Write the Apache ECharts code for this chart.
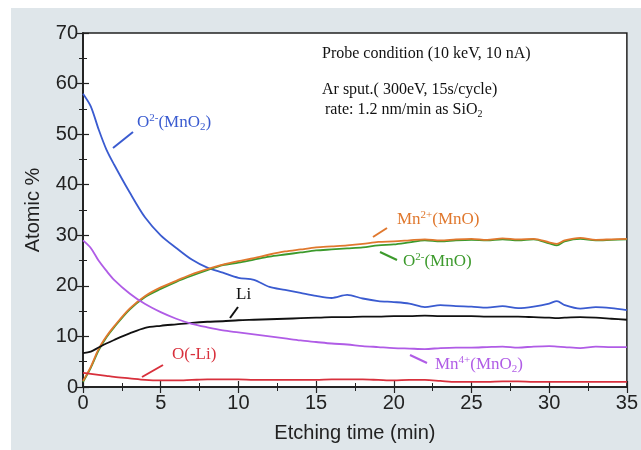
<!DOCTYPE html>
<html><head><meta charset="utf-8">
<script src="https://cdn.jsdelivr.net/npm/echarts@6/dist/echarts.min.js"></script>
<style>html,body{margin:0;padding:0;background:#fff}#c{width:641px;height:450px}</style>
</head><body><div id="c"></div>
<script>
var times = [0,0.5,1,1.5,2,3,4,5,6,7,8,9,10,11,12,13,14,15,16,17,18,19,20,21,22,23,24,25,26,27,28,29,30,30.5,31,32,33,34,35];
var o2MnO2 = [58,55.5,51,47,44,38.5,33.5,30,27.5,25.2,23.6,22.6,21.6,21.2,19.8,19.2,18.6,18,17.6,18.2,17.5,17,16.8,16.5,15.8,16.2,16,15.9,15.7,16,15.6,15.9,16.5,17,16.2,15.5,15.8,15.6,15.2];
var mn2MnO = [1.2,4,7.5,10,12,15.5,18,19.7,21,22.3,23.3,24.2,24.9,25.5,26.2,26.8,27.2,27.6,27.8,28,28.3,28.7,28.8,29,29.2,29,29.2,29.3,29.1,29.4,29.2,29.3,28.6,28.3,29,29.5,29.1,29.2,29.3];
var o2MnO = [1,3.8,7.2,9.8,11.8,15.3,17.8,19.4,20.8,22,23.1,24.1,24.6,25.2,25.8,26.2,26.6,27,27.2,27.4,27.6,28,28.2,28.6,29,28.8,29,29.1,29,29.2,29,29.2,28.4,28,28.8,29.3,29,29.1,29.2];
var li = [6.7,7,7.8,8.6,9.3,10.6,11.7,12.1,12.4,12.7,12.9,13,13.2,13.3,13.4,13.5,13.6,13.7,13.8,13.8,13.9,13.9,14,14,14.1,14,14,14,13.9,13.9,13.9,13.8,13.7,13.6,13.7,13.8,13.7,13.5,13.3];
var mn4MnO2 = [29,27.5,25,23,21.2,18.5,16.4,14.8,13.5,12.5,11.8,11.2,10.8,10.4,10,9.6,9.2,8.9,8.6,8.4,8.1,7.9,7.7,7.6,7.5,7.7,7.8,7.8,7.9,8,7.8,8,8.1,8,7.9,7.7,8,7.9,7.9];
var oLi = [2.8,2.6,2.4,2.2,2,1.7,1.4,1.3,1.3,1.4,1.5,1.5,1.5,1.4,1.4,1.4,1.4,1.4,1.5,1.5,1.5,1.4,1.3,1.4,1.4,1.2,1,1,1,1.1,1.1,1,1,1,1,1,1,1,1];
var xTicks = [0,5,10,15,20,25,30,35];
var yTicks = [0,10,20,30,40,50,60,70];

function pairs(v){ return times.map(function(t,i){return [t,v[i]];}); }
var chart = echarts.init(document.getElementById('c'));
var axisCol = '#222';
function mkSeries(name, data, color){
  return {name:name, type:'line', data:pairs(data), showSymbol:false, smooth:0.3,
    lineStyle:{color:color, width:1.8}, itemStyle:{color:color}, z:3};
}
var serif = 'Liberation Serif';
function richFor(color,size,ss){
  size=size||17; ss=ss||11;
  return {
    n:{fontFamily:serif,fontSize:size,fill:color,color:color},
    sup:{fontFamily:serif,fontSize:ss,verticalAlign:'top',fill:color,color:color,padding:[0,0,8,0]},
    sub:{fontFamily:serif,fontSize:ss,fill:color,color:color,padding:[9,0,0,0]}
  };
}
function lbl(x,y,text,color,size,ss){
  return {type:'text', z:10, left:x, top:y, style:{text:text, fill:color, font:(size||17)+'px "Liberation Serif"', rich:richFor(color,size,ss)}};
}
function leader(x1,y1,x2,y2,color){
  return {type:'line', z:10, shape:{x1:x1,y1:y1,x2:x2,y2:y2}, style:{stroke:color,lineWidth:2}};
}
var cBlue='#3a5bd0', cOr='#e0782e', cGr='#3c9a2c', cBk='#111111', cPu='#b05ce6', cRd='#d8303c';
var option = {
  animation:false,
  backgroundColor:'#ffffff',
  graphic:[
    {type:'rect', z:-10, shape:{x:11,y:8,width:630,height:442}, style:{fill:'#dfe6ea'}},
    {type:'text', z:10, left:322, top:46, style:{text:'Probe condition (10 keV, 10 nA)', fill:'#111', font:'16px "Liberation Serif"'}},
    {type:'text', z:10, left:322, top:82, style:{text:'Ar sput.( 300eV, 15s/cycle)', fill:'#111', font:'16px "Liberation Serif"'}},
    lbl(325,102,'{n|rate: 1.2 nm/min as SiO}{sub|2}','#111',16,10),
    lbl(137,113,'{n|O}{sup|2-}{n|(MnO}{sub|2}{n|)}',cBlue),
    leader(113,148,133,132,cBlue),
    lbl(397,210,'{n|Mn}{sup|2+}{n|(MnO)}',cOr),
    leader(373,237,387,228,cOr),
    lbl(403,252,'{n|O}{sup|2-}{n|(MnO)}',cGr),
    leader(380,252,397,260,cGr),
    lbl(236,286,'{n|Li}',cBk),
    leader(230,318,238,307,cBk),
    lbl(172,346,'{n|O(-Li)}',cRd),
    leader(142,377,163,365,cRd),
    lbl(435,355,'{n|Mn}{sup|4+}{n|(MnO}{sub|2}{n|)}',cPu),
    leader(410,355,427,363,cPu)
  ],
  grid:{left:83, right:11, top:33, bottom:63, show:true, backgroundColor:'#ffffff', borderColor:axisCol, borderWidth:1.5},
  xAxis:[
    {type:'value', min:0, max:35, interval:5, name:'Etching time (min)', nameLocation:'middle', nameGap:36,
     nameTextStyle:{fontFamily:'Liberation Sans', fontSize:20, color:'#222'},
     axisLine:{show:true, lineStyle:{color:axisCol, width:1.5}},
     axisTick:{inside:true, length:6, lineStyle:{color:axisCol, width:1.2}},
     minorTick:{show:true, splitNumber:2, length:4, lineStyle:{color:axisCol, width:1}},
     axisLabel:{fontFamily:'Liberation Sans', fontSize:20, color:'#222', margin:6,
       formatter:function(v){return xTicks.indexOf(v)>=0? String(v):'';}},
     splitLine:{show:false}},
    {type:'value', min:0, max:35, interval:5, position:'top',
     axisLine:{show:true, lineStyle:{color:axisCol, width:1.5}},
     axisTick:{inside:true, length:6, lineStyle:{color:axisCol, width:1.2}},
     minorTick:{show:true, splitNumber:2, length:4, lineStyle:{color:axisCol, width:1}},
     axisLabel:{show:false}, splitLine:{show:false}}
  ],
  yAxis:[
    {type:'value', min:0, max:70, interval:10, name:'Atomic %', nameLocation:'middle', nameGap:40,
     nameTextStyle:{fontFamily:'Liberation Sans', fontSize:20, color:'#222'},
     axisLine:{show:true, lineStyle:{color:axisCol, width:1.5}},
     axisTick:{inside:true, length:6, lineStyle:{color:axisCol, width:1.2}},
     minorTick:{show:true, splitNumber:2, length:4, lineStyle:{color:axisCol, width:1}},
     axisLabel:{fontFamily:'Liberation Sans', fontSize:20, color:'#222', margin:5,
       formatter:function(v){return yTicks.indexOf(v)>=0? String(v):'';}},
     splitLine:{show:false}},
    {type:'value', min:0, max:70, interval:10, position:'right',
     axisLine:{show:true, lineStyle:{color:axisCol, width:1.5}},
     axisTick:{inside:true, length:6, lineStyle:{color:axisCol, width:1.2}},
     minorTick:{show:true, splitNumber:2, length:4, lineStyle:{color:axisCol, width:1}},
     axisLabel:{show:false}, splitLine:{show:false}}
  ],
  series:[
    mkSeries('O2-(MnO2)', o2MnO2, cBlue),
    mkSeries('O2-(MnO)', o2MnO, cGr),
    mkSeries('Mn2+(MnO)', mn2MnO, cOr),
    mkSeries('Li', li, cBk),
    mkSeries('Mn4+(MnO2)', mn4MnO2, cPu),
    mkSeries('O(-Li)', oLi, cRd)
  ]
};
chart.setOption(option);
</script></body></html>
